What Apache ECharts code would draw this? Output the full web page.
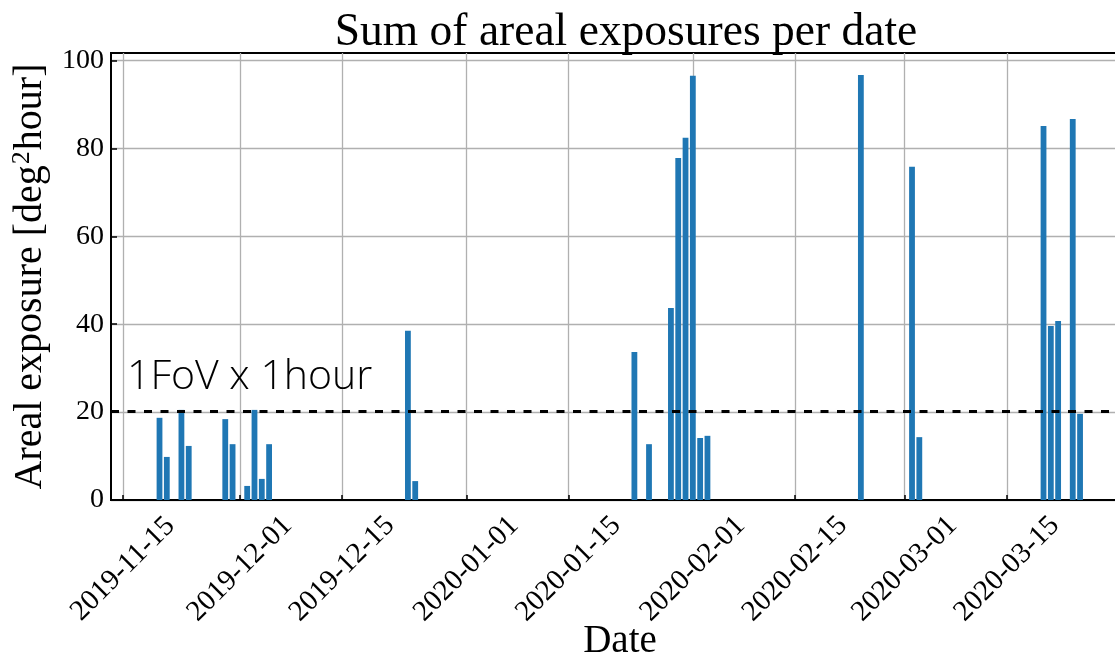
<!DOCTYPE html>
<html>
<head>
<meta charset="utf-8">
<script src="https://cdn.jsdelivr.net/npm/echarts@6/dist/echarts.min.js"></script>
<style>
  html, body { margin: 0; padding: 0; background: #fff; }
  #chart { width: 1115px; height: 659px; }
</style>
</head>
<body>
<div id="chart"></div>
<script>
// Observation dates and the summed areal exposure for each date [deg^2 hour]
const dates = [
  '2019-11-20', '2019-11-21', '2019-11-23', '2019-11-24', '2019-11-29', '2019-11-30',
  '2019-12-02', '2019-12-03', '2019-12-04', '2019-12-05', '2019-12-24', '2019-12-25',
  '2020-01-24', '2020-01-26', '2020-01-29', '2020-01-30', '2020-01-31', '2020-02-01',
  '2020-02-02', '2020-02-03', '2020-02-24', '2020-03-02', '2020-03-03', '2020-03-20',
  '2020-03-21', '2020-03-22', '2020-03-24', '2020-03-25'
];
const exposures = [
  18.7, 9.8, 20.5, 12.3, 18.4, 12.7,
  3.2, 20.5, 4.8, 12.7, 38.5, 4.3,
  33.7, 12.7, 43.7, 77.8, 82.4, 96.5,
  14.1, 14.6, 96.7, 75.8, 14.3, 85.1,
  39.6, 40.7, 86.7, 19.6
];
// Reference level: one field of view observed for one hour
const fovHourLevel = 20.3;
const fovHourText = '1FoV x 1hour';

// Axis ticks
const dateTicks = [
  '2019-11-15', '2019-12-01', '2019-12-15', '2020-01-01', '2020-01-15',
  '2020-02-01', '2020-02-15', '2020-03-01', '2020-03-15'
];
const yTicks = [0, 20, 40, 60, 80, 100];

// Dates are placed on a linear axis measured in milliseconds (UTC midnight)
const DAY = 86400000;
function ts(s) {
  const p = s.split('-').map(Number);
  return Date.UTC(p[0], p[1] - 1, p[2]);
}
function fmt(t) {
  const d = new Date(t);
  const pad = n => (n < 10 ? '0' : '') + n;
  return d.getUTCFullYear() + '-' + pad(d.getUTCMonth() + 1) + '-' + pad(d.getUTCDate());
}

const xMin = ts('2019-11-15') - 1.64 * DAY;
const xMax = ts('2020-03-15') + 16.7 * DAY;
const tickValues = dateTicks.map(ts);

const serif = '"Liberation Serif", "DejaVu Serif", serif';
const gridColor = '#b0b0b0';

const chart = echarts.init(document.getElementById('chart'), null, { renderer: 'canvas' });
chart.setOption({
  backgroundColor: '#fff',
  animation: false,
  title: {
    text: 'Sum of areal exposures per date',
    left: 621,
    textAlign: 'center',
    top: 5,
    textStyle: { fontFamily: serif, fontSize: 45.5, fontWeight: 'normal', color: '#000' }
  },
  grid: {
    left: 111, right: -14, top: 53, bottom: 159,
    outerBoundsMode: 'none',
    containLabel: false,
    show: true, borderColor: '#000', borderWidth: 2, backgroundColor: 'transparent'
  },
  xAxis: {
    type: 'value',
    min: xMin,
    max: xMax,
    name: 'Date',
    nameLocation: 'middle',
    nameGap: 122,
    nameMoveOverlap: false,
    nameTextStyle: { fontFamily: serif, fontSize: 39, color: '#000' },
    axisLine: { show: true, lineStyle: { color: '#000', width: 2 } },
    axisTick: { show: true, inside: true, length: 5, customValues: tickValues,
      lineStyle: { color: '#000', width: 1.5 } },
    axisLabel: {
      customValues: tickValues,
      rotate: 45,
      align: 'center',
      verticalAlign: 'middle',
      margin: 69,
      fontFamily: serif,
      fontSize: 29,
      color: '#000',
      formatter: v => fmt(v)
    },
    splitLine: { show: true, lineStyle: { color: gridColor, width: 1.3 } }
  },
  yAxis: {
    type: 'value',
    min: 0,
    max: 101.7,
    name: '{t|Areal exposure [deg}{s|2}{t|hour]}',
    nameLocation: 'middle',
    nameRotate: 90,
    nameGap: 60,
    nameMoveOverlap: false,
    nameTextStyle: {
      rich: {
        t: { fontFamily: serif, fontSize: 40, color: '#000' },
        s: { fontFamily: serif, fontSize: 26, color: '#000', padding: [0, 1, 16, 1] }
      }
    },
    axisLine: { show: true, lineStyle: { color: '#000', width: 2 } },
    axisTick: { show: true, inside: true, length: 6, customValues: yTicks,
      lineStyle: { color: '#000', width: 1.5 } },
    axisLabel: { customValues: yTicks, margin: 7, fontFamily: serif, fontSize: 28, color: '#000' },
    splitLine: { show: true, lineStyle: { color: gridColor, width: 1.3 } }
  },
  series: [{
    type: 'bar',
    data: dates.map((d, i) => [ts(d), exposures[i]]),
    barWidth: 5.8,
    itemStyle: { color: '#1f77b4' },
    markLine: {
      silent: true,
      symbol: 'none',
      lineStyle: { color: '#000', type: [8, 8.5], width: 3 },
      label: {
        show: true,
        position: 'insideStartTop',
        distance: [16, 13],
        formatter: fovHourText,
        fontFamily: '"Open Sans", Lato, sans-serif',
        fontWeight: 300,
        fontSize: 41,
        color: '#000'
      },
      data: [{ yAxis: fovHourLevel }]
    }
  }]
});
</script>
</body>
</html>
